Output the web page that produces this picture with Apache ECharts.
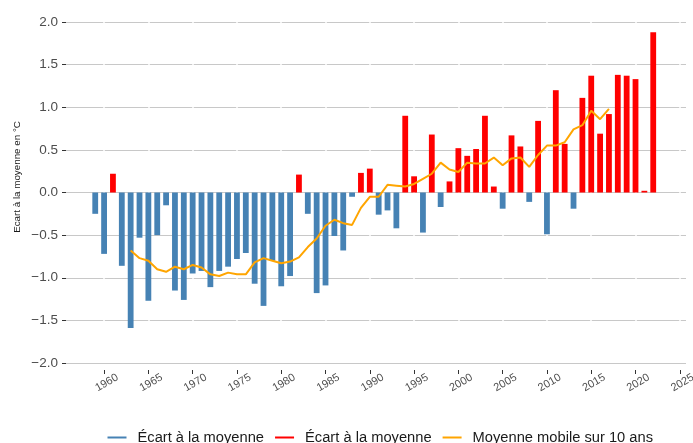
<!DOCTYPE html>
<html>
<head>
<meta charset="utf-8">
<script src="https://cdn.jsdelivr.net/npm/echarts@6/dist/echarts.min.js"></script>
<style>
  html, body { margin: 0; padding: 0; background: #fff; }
  #chart { width: 693px; height: 443px; }
</style>
</head>
<body>
<div id="chart"></div>
<script>
// Annual temperature anomaly (°C) relative to the reference mean
const years = [
  1959, 1960, 1961, 1962, 1963, 1964, 1965, 1966, 1967, 1968,
  1969, 1970, 1971, 1972, 1973, 1974, 1975, 1976, 1977, 1978,
  1979, 1980, 1981, 1982, 1983, 1984, 1985, 1986, 1987, 1988,
  1989, 1990, 1991, 1992, 1993, 1994, 1995, 1996, 1997, 1998,
  1999, 2000, 2001, 2002, 2003, 2004, 2005, 2006, 2007, 2008,
  2009, 2010, 2011, 2012, 2013, 2014, 2015, 2016, 2017, 2018,
  2019, 2020, 2021, 2022
];
const anomalies = [
  -0.25, -0.72, 0.22, -0.86, -1.59, -0.53, -1.27, -0.50, -0.15, -1.15,
  -1.26, -0.95, -0.92, -1.11, -0.92, -0.87, -0.78, -0.71, -1.07, -1.33,
  -0.80, -1.10, -0.98, 0.21, -0.25, -1.18, -1.09, -0.51, -0.68, -0.05,
  0.23, 0.28, -0.26, -0.21, -0.42, 0.90, 0.19, -0.47, 0.68, -0.17,
  0.13, 0.52, 0.43, 0.51, 0.90, 0.07, -0.19, 0.67, 0.54, -0.11,
  0.84, -0.49, 1.20, 0.57, -0.19, 1.11, 1.37, 0.69, 0.92, 1.38,
  1.37, 1.33, 0.02, 1.88
];

// 10-year moving average
const maYears = [
  1963, 1964, 1965, 1966, 1967, 1968, 1969, 1970, 1971, 1972,
  1973, 1974, 1975, 1976, 1977, 1978, 1979, 1980, 1981, 1982,
  1983, 1984, 1985, 1986, 1987, 1988, 1989, 1990, 1991, 1992,
  1993, 1994, 1995, 1996, 1997, 1998, 1999, 2000, 2001, 2002,
  2003, 2004, 2005, 2006, 2007, 2008, 2009, 2010, 2011, 2012,
  2013, 2014, 2015, 2016, 2017
];
const maValues = [
  -0.68, -0.77, -0.80, -0.90, -0.93, -0.87, -0.90, -0.85, -0.88, -0.96,
  -0.98, -0.94, -0.96, -0.96, -0.82, -0.77, -0.80, -0.83, -0.81, -0.76,
  -0.64, -0.54, -0.39, -0.32, -0.36, -0.38, -0.18, -0.05, -0.05, 0.09,
  0.08, 0.07, 0.10, 0.16, 0.22, 0.35, 0.27, 0.24, 0.35, 0.34,
  0.34, 0.41, 0.32, 0.40, 0.41, 0.30, 0.44, 0.55, 0.55, 0.59,
  0.74, 0.79, 0.96, 0.86, 0.98
];

// Axis ticks
const xTicks = [1960, 1965, 1970, 1975, 1980, 1985, 1990, 1995, 2000, 2005, 2010, 2015, 2020, 2025];
const yTicks = [-2.0, -1.5, -1.0, -0.5, 0.0, 0.5, 1.0, 1.5, 2.0];

const legendLabels = {
  below: 'Écart à la moyenne',
  above: 'Écart à la moyenne',
  ma: 'Moyenne mobile sur 10 ans'
};

const FONT = 'Liberation Sans, Arial, sans-serif';

const belowData = [];
const aboveData = [];
years.forEach((y, i) => {
  const v = anomalies[i];
  if (v < 0) belowData.push([y, v]);
  else aboveData.push([y, v]);
});
const maData = maYears.map((y, i) => [y, maValues[i]]);

const chart = echarts.init(document.getElementById('chart'), null, { renderer: 'canvas' });

chart.setOption({
  animation: false,
  backgroundColor: '#ffffff',
  textStyle: { fontFamily: FONT },
  grid: { left: 66, right: 7, top: 22, bottom: 80, containLabel: false, outerBoundsMode: 'none' },
  xAxis: {
    type: 'value',
    min: 1955.7,
    max: 2025.7,
    offset: 7,
    z: 1,
    axisLine: { show: false, onZero: false },
    axisTick: {
      show: true,
      length: 4,
      customValues: xTicks,
      lineStyle: { color: '#333333', width: 1 }
    },
    axisLabel: {
      customValues: xTicks,
      rotate: 30,
      align: 'center',
      verticalAlign: 'top',
      margin: 8,
      color: '#4d4d4d',
      fontSize: 11,
      fontFamily: FONT,
      hideOverlap: false,
      formatter: v => String(v)
    },
    splitLine: {
      show: true,
      customValues: xTicks,
      lineStyle: { color: '#ffffff', width: 1.5 }
    }
  },
  yAxis: {
    type: 'value',
    min: yTicks[0],
    max: yTicks[yTicks.length - 1],
    interval: 0.5,
    axisLine: { show: false },
    axisTick: { show: true, length: 4, lineStyle: { color: '#333333', width: 1 } },
    axisLabel: {
      margin: 8,
      color: '#4d4d4d',
      fontSize: 13.5,
      fontFamily: FONT,
      formatter: v => {
        const s = Math.abs(v).toFixed(1);
        return v < 0 ? '\u2212' + s : s;
      }
    },
    splitLine: { show: true, lineStyle: { color: '#c8c8c8', width: 1.2 } }
  },
  legend: {
    top: 430,
    left: 107.5,
    padding: 0,
    itemWidth: 19,
    itemHeight: 2,
    itemGap: 11,
    icon: 'rect',
    textStyle: { fontSize: 14.7, color: '#1a1a1a', fontFamily: FONT, padding: [0, 0, 0, 6] },
    formatter: name => legendLabels[name],
    data: ['below', 'above', 'ma']
  },
  graphic: [{
    type: 'text',
    x: 17,
    y: 177,
    rotation: Math.PI / 2,
    style: {
      text: 'Ecart à la moyenne en °C',
      fontSize: 9.8,
      fontFamily: FONT,
      fill: '#1a1a1a',
      align: 'center',
      verticalAlign: 'middle'
    }
  }],
  series: [
    {
      name: 'below',
      type: 'bar',
      data: belowData,
      barWidth: 5.8,
      barGap: '-100%',
      itemStyle: { color: '#4682b4' }
    },
    {
      name: 'above',
      type: 'bar',
      data: aboveData,
      barWidth: 5.8,
      barGap: '-100%',
      itemStyle: { color: '#ff0000' }
    },
    {
      name: 'ma',
      type: 'line',
      data: maData,
      showSymbol: false,
      symbol: 'none',
      lineStyle: { color: '#ffa500', width: 2 },
      itemStyle: { color: '#ffa500' },
      z: 3
    }
  ]
});
</script>
</body>
</html>
